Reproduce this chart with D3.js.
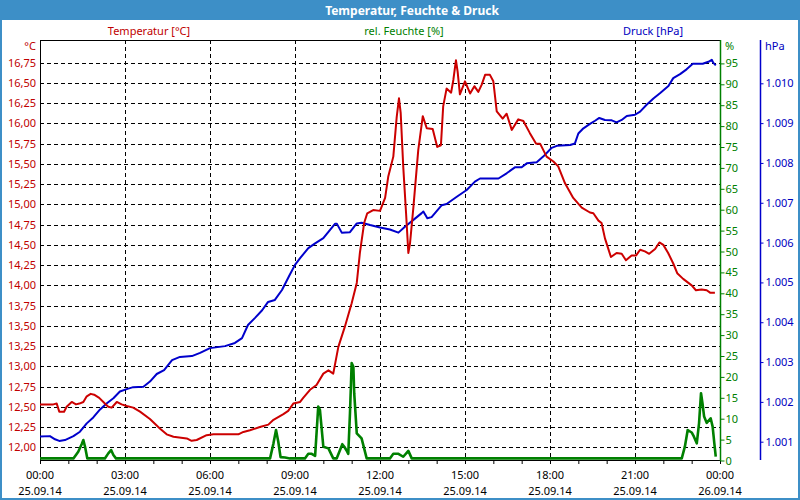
<!DOCTYPE html>
<html><head><meta charset="utf-8">
<script src="https://cdn.jsdelivr.net/npm/d3@7"></script>
<style>body{margin:0;background:#fff}svg{display:block}text{font-family:"Noto Sans",sans-serif}</style>
</head><body><svg id="c" width="800" height="500"></svg>
<script>
// ---- data ----
const title = "Temperatur, Feuchte & Druck";
const legendLabels = ["Temperatur [°C]", "rel. Feuchte [%]", "Druck [hPa]"];
const xTickHours = [0, 3, 6, 9, 12, 15, 18, 21, 24];
const xTickTimes = ["00:00","03:00","06:00","09:00","12:00","15:00","18:00","21:00","00:00"];
const xTickDates = ["25.09.14","25.09.14","25.09.14","25.09.14","25.09.14","25.09.14","25.09.14","25.09.14","26.09.14"];
const tempTicks = [12.00,12.25,12.50,12.75,13.00,13.25,13.50,13.75,14.00,14.25,14.50,14.75,15.00,15.25,15.50,15.75,16.00,16.25,16.50,16.75];
const humTicks = [0,5,10,15,20,25,30,35,40,45,50,55,60,65,70,75,80,85,90,95];
const pressTicks = [1001,1002,1003,1004,1005,1006,1007,1008,1009,1010];

const tempHours = [0.00,0.47,0.59,0.68,0.85,0.94,1.12,1.27,1.39,1.53,1.65,1.79,1.91,2.09,2.29,2.41,2.53,2.71,2.88,3.06,3.29,3.53,3.88,4.24,4.47,4.71,5.18,5.35,5.53,5.88,6.12,7.00,7.18,7.41,7.76,8.06,8.24,8.59,8.76,8.94,9.18,9.29,9.53,9.76,10.00,10.18,10.35,10.53,10.76,11.00,11.18,11.29,11.44,11.55,11.76,12.00,12.18,12.29,12.47,12.59,12.67,12.73,12.82,12.92,13.00,13.06,13.18,13.35,13.51,13.65,13.86,14.02,14.15,14.23,14.35,14.51,14.59,14.68,14.74,14.82,15.00,15.18,15.33,15.47,15.59,15.71,15.88,16.00,16.12,16.33,16.47,16.65,16.88,17.06,17.29,17.51,17.65,17.88,18.12,18.29,18.53,18.82,19.12,19.41,19.53,19.71,19.82,19.94,20.15,20.35,20.53,20.68,20.88,21.04,21.18,21.35,21.50,21.71,21.86,22.00,22.17,22.35,22.49,22.70,23.00,23.15,23.35,23.53,23.65,23.82];
const tempValues = [12.53,12.53,12.54,12.44,12.44,12.50,12.56,12.53,12.54,12.56,12.63,12.66,12.65,12.61,12.54,12.50,12.49,12.56,12.53,12.51,12.49,12.44,12.35,12.23,12.16,12.13,12.11,12.08,12.09,12.15,12.16,12.16,12.19,12.21,12.25,12.28,12.34,12.41,12.45,12.54,12.56,12.61,12.71,12.77,12.91,12.95,12.91,13.24,13.49,13.78,14.03,14.40,14.77,14.89,14.93,14.92,15.08,15.34,15.59,16.08,16.31,16.13,15.47,14.89,14.40,14.52,14.97,15.67,16.09,15.94,15.93,15.71,15.73,16.21,16.43,16.38,16.54,16.78,16.64,16.36,16.52,16.37,16.46,16.39,16.48,16.60,16.60,16.52,16.15,16.06,16.12,15.92,16.05,16.03,15.88,15.75,15.75,15.59,15.53,15.47,15.26,15.08,14.96,14.90,14.89,14.80,14.77,14.58,14.35,14.40,14.39,14.31,14.37,14.37,14.44,14.42,14.39,14.45,14.53,14.50,14.40,14.27,14.15,14.08,14.00,13.94,13.95,13.94,13.91,13.91];

const pressHours = [0.00,0.35,0.53,0.68,0.88,1.18,1.41,1.65,1.88,2.12,2.35,2.59,2.82,3.06,3.29,3.65,3.88,4.12,4.38,4.66,4.94,5.36,5.65,6.00,6.53,6.88,7.13,7.34,7.59,7.84,8.05,8.29,8.54,8.82,9.00,9.18,9.47,9.71,10.00,10.18,10.41,10.48,10.65,10.94,11.18,11.35,11.65,12.00,12.35,12.65,12.88,13.18,13.47,13.53,13.67,13.82,14.18,14.35,14.71,15.06,15.35,15.53,16.18,16.47,16.76,17.00,17.18,17.53,17.76,18.06,18.24,18.71,18.88,19.00,19.18,19.41,19.59,19.74,19.94,20.18,20.35,20.53,20.71,21.00,21.18,21.41,21.65,21.88,22.18,22.35,22.59,22.82,23.04,23.39,23.59,23.71,23.76,23.85];
const pressValues = [1001.13,1001.14,1001.06,1001.02,1001.04,1001.14,1001.25,1001.46,1001.61,1001.81,1001.96,1002.09,1002.26,1002.32,1002.37,1002.38,1002.51,1002.70,1002.80,1003.05,1003.13,1003.15,1003.23,1003.35,1003.40,1003.48,1003.60,1003.93,1004.11,1004.30,1004.51,1004.56,1004.81,1005.20,1005.44,1005.61,1005.86,1005.98,1006.11,1006.27,1006.47,1006.47,1006.25,1006.26,1006.48,1006.50,1006.44,1006.38,1006.33,1006.25,1006.40,1006.57,1006.74,1006.78,1006.61,1006.64,1006.94,1006.97,1007.15,1007.32,1007.53,1007.61,1007.61,1007.74,1007.89,1007.89,1007.99,1008.02,1008.16,1008.38,1008.43,1008.45,1008.49,1008.74,1008.87,1008.98,1009.06,1009.13,1009.08,1009.07,1009.02,1009.08,1009.18,1009.21,1009.29,1009.46,1009.62,1009.75,1009.93,1010.13,1010.23,1010.35,1010.49,1010.49,1010.54,1010.59,1010.52,1010.45];

const humHours = [0.00,1.18,1.35,1.47,1.53,1.59,1.67,2.29,2.41,2.51,2.59,2.68,8.12,8.24,8.33,8.41,8.49,8.65,8.82,9.35,9.47,9.59,9.71,9.82,9.88,10.00,10.18,10.35,10.47,10.59,10.67,10.74,10.82,10.88,10.94,11.00,11.06,11.09,11.18,11.35,11.53,12.35,12.47,12.65,12.82,13.00,13.12,22.65,22.76,22.86,23.00,23.08,23.18,23.26,23.33,23.38,23.44,23.53,23.67,23.74,23.80,23.85];
const humValues = [0.5,0.5,2.1,3.9,4.9,3.3,0.5,0.5,1.7,2.5,1.3,0.5,0.5,4.1,7.3,4.5,0.8,0.7,0.5,0.5,1.6,1.6,1.1,12.9,12.1,3.3,2.9,0.5,0.5,2.5,3.9,3.3,2.4,1.6,11.3,23.3,22.4,16.1,6.5,5.3,0.5,0.5,1.6,1.6,0.9,2.3,0.5,0.5,3.3,7.3,6.7,5.7,4.1,8.9,16.1,13.8,10.5,9.0,10.1,8.1,4.1,0.9];

// ---- drawing ----
const C = {bar:"#3d8fc7", red:"#cc0000", green:"#008000", blue:"#0000cc", redTxt:"#c00000", greenTxt:"#008000", blueTxt:"#0000c0"};
const svg = d3.select("#c");
const L = 40, R = 720, T = 40, B = 460;
const x = d3.scaleLinear([0, 24], [L, R]);
const yT = d3.scaleLinear([12, 16.75], [447.3, 62.7]);
const yH = d3.scaleLinear([0, 95], [460.5, 63.4]);
const yP = d3.scaleLinear([1001, 1010], [441.7, 83.3]);
const px = v => Math.round(v) + 0.5;

svg.append("rect").attr("x",0).attr("y",0).attr("width",800).attr("height",500).attr("fill","#fff");
svg.append("rect").attr("x",0).attr("y",0).attr("width",800).attr("height",20).attr("fill",C.bar);
svg.append("text").attr("x",412).attr("y",14.5).attr("text-anchor","middle").attr("fill","#fff")
  .attr("font-size",12).attr("font-weight","bold").text(title);

// legend
const legX = [149, 404, 653], legC = [C.redTxt, C.greenTxt, C.blueTxt];
legendLabels.forEach((t,i)=> svg.append("text").attr("x",legX[i]).attr("y",35).attr("text-anchor","middle")
  .attr("fill",legC[i]).attr("font-size",11).text(t));

// grid
const g = svg.append("g");
g.selectAll(".hg").data(tempTicks).join("line")
  .attr("x1",L).attr("x2",R).attr("y1",d=>px(yT(d))).attr("y2",d=>px(yT(d)))
  .attr("stroke","#000").attr("stroke-dasharray","4,3");
g.selectAll(".vg").data(xTickHours.slice(1,-1)).join("line")
  .attr("x1",d=>px(x(d))).attr("x2",d=>px(x(d))).attr("y1",T).attr("y2",B)
  .attr("stroke","#000").attr("stroke-dasharray","4,3");

// frame
svg.append("line").attr("x1",L).attr("x2",R).attr("y1",T+0.5).attr("y2",T+0.5).attr("stroke","#000");
svg.append("line").attr("x1",L+0.5).attr("x2",L+0.5).attr("y1",T).attr("y2",B+1).attr("stroke","#000");
svg.append("line").attr("x1",L).attr("x2",R).attr("y1",B+0.5).attr("y2",B+0.5).attr("stroke","#000");

// lines
const mkLine = (ys) => d3.line().x(d=>x(d[0])).y(d=>ys(d[1]));
svg.append("path").datum(d3.zip(humHours, humValues)).attr("d", mkLine(yH))
  .attr("fill","none").attr("stroke",C.green).attr("stroke-width",2.6).attr("stroke-linejoin","round");
svg.append("path").datum(d3.zip(pressHours, pressValues)).attr("d", mkLine(yP))
  .attr("fill","none").attr("stroke",C.blue).attr("stroke-width",2).attr("stroke-linejoin","round");
svg.append("path").datum(d3.zip(tempHours, tempValues)).attr("d", mkLine(yT))
  .attr("fill","none").attr("stroke",C.red).attr("stroke-width",2).attr("stroke-linejoin","round");

// left axis (temperature)
const axL = svg.append("g").attr("transform",`translate(${L},0)`)
  .call(d3.axisLeft(yT).tickValues(tempTicks).tickSize(0).tickPadding(4)
    .tickFormat(d => d3.format(".2f")(d).replace(".", ",")));
axL.select(".domain").remove();
axL.selectAll("text").attr("fill",C.redTxt).attr("font-size",11).attr("font-family","Noto Sans");
svg.append("text").attr("x",36).attr("y",50).attr("text-anchor","end").attr("fill",C.redTxt).attr("font-size",11).text("°C");

// bottom axis
const axB = svg.append("g").attr("transform",`translate(0,${B})`)
  .call(d3.axisBottom(x).tickValues(d3.range(0,25)).tickSize(4).tickFormat(""));
axB.select(".domain").remove();
axB.selectAll("line").attr("stroke","#000");
xTickHours.forEach((h,i)=>{
  svg.append("text").attr("x",x(h)).attr("y",479).attr("text-anchor","middle").attr("font-size",11).attr("fill","#000").text(xTickTimes[i]);
  svg.append("text").attr("x",x(h)).attr("y",495).attr("text-anchor","middle").attr("font-size",11).attr("fill","#000").text(xTickDates[i]);
});

// humidity axis
const axH = svg.append("g").attr("transform",`translate(${R+0.5},0)`)
  .call(d3.axisRight(yH).tickValues(humTicks).tickSize(4).tickPadding(1));
axH.select(".domain").remove();
axH.selectAll("line").attr("stroke",C.green);
axH.selectAll("text").attr("fill",C.greenTxt).attr("font-size",11).attr("font-family","Noto Sans");
svg.append("line").attr("x1",R+0.5).attr("x2",R+0.5).attr("y1",T).attr("y2",B+1).attr("stroke",C.green).attr("stroke-width",1.5);
svg.append("text").attr("x",725).attr("y",50).attr("fill",C.greenTxt).attr("font-size",11).text("%");

// pressure axis
const PX = 760.5;
const axP = svg.append("g").attr("transform",`translate(${PX},0)`)
  .call(d3.axisRight(yP).tickValues(pressTicks).tickSize(3).tickPadding(2)
    .tickFormat(d => d3.format(".3f")(d/1000)));
axP.select(".domain").remove();
axP.selectAll("line").attr("stroke",C.blue);
axP.selectAll("text").attr("fill",C.blueTxt).attr("font-size",11).attr("font-family","Noto Sans");
svg.append("line").attr("x1",PX).attr("x2",PX).attr("y1",T).attr("y2",B).attr("stroke",C.blue).attr("stroke-width",1.5);
svg.append("text").attr("x",765).attr("y",50).attr("fill",C.blueTxt).attr("font-size",11).text("hPa");

// outer border
svg.append("rect").attr("x",1).attr("y",1).attr("width",798).attr("height",498)
  .attr("fill","none").attr("stroke",C.bar).attr("stroke-width",2);
</script></body></html>
